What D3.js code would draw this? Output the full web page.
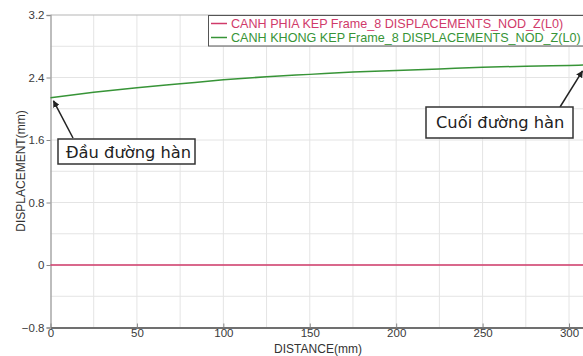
<!DOCTYPE html>
<html>
<head>
<meta charset="utf-8">
<script src="https://cdn.jsdelivr.net/npm/d3@7"></script>
<style>
  html, body { margin: 0; padding: 0; background: #fff; }
  svg { display: block; }
</style>
</head>
<body>
<svg id="chart" width="583" height="356"></svg>
<script>
// Distance along the weld (mm) and Z displacement (mm) of both edges
const distance = [0, 25, 50, 75, 100, 125, 150, 175, 200, 225, 250, 275, 300, 310];
const clampedEdge = [0, 0, 0, 0, 0, 0, 0, 0, 0, 0, 0, 0, 0, 0];
const freeEdge = [2.14, 2.21, 2.27, 2.32, 2.37, 2.41, 2.44, 2.47, 2.49, 2.51, 2.53, 2.545, 2.555, 2.56];

const seriesNames = [
  "CANH PHIA KEP Frame_8 DISPLACEMENTS_NOD_Z(L0)",
  "CANH KHONG KEP Frame_8 DISPLACEMENTS_NOD_Z(L0)"
];
const seriesColors = ["#d03a6a", "#379437"];

const xTicks = [0, 50, 100, 150, 200, 250, 300];
const xGrid = [25, 50, 75, 100, 125, 150, 175, 200, 225, 250, 275, 300];
const yTicks = [-0.8, 0, 0.8, 1.6, 2.4, 3.2];
const yGrid = [-0.4, 0, 0.4, 0.8, 1.2, 1.6, 2.0, 2.4, 2.8];

const startLabel = "Đầu đường hàn";
const endLabel = "Cuối đường hàn";

const svg = d3.select("#chart");
const font = "'Liberation Sans', Arial, sans-serif";

const x = d3.scaleLinear().domain([0, 310]).range([50.5, 586.3]);
const y = d3.scaleLinear().domain([-0.8, 3.2]).range([327.5, 15]);

// grid
svg.append("g").selectAll("line").data(xGrid).join("line")
  .attr("x1", d => x(d)).attr("x2", d => x(d))
  .attr("y1", y(3.2)).attr("y2", y(-0.8))
  .attr("stroke", "#e4e4e4").attr("stroke-width", 1);
svg.append("g").selectAll("line").data(yGrid).join("line")
  .attr("x1", x(0)).attr("x2", 583)
  .attr("y1", d => y(d)).attr("y2", d => y(d))
  .attr("stroke", "#e4e4e4").attr("stroke-width", 1);

// top border
svg.append("line").attr("x1", x(0)).attr("x2", 583)
  .attr("y1", y(3.2)).attr("y2", y(3.2))
  .attr("stroke", "#b5b5b5").attr("stroke-width", 1.2);

// y axis
const yAxis = svg.append("g").attr("transform", `translate(${x(0)},0)`)
  .call(d3.axisLeft(y).tickValues(yTicks).tickSize(4).tickPadding(2)
    .tickFormat(d => d === 0 ? "0" : d3.format(".1f")(d)));
yAxis.select(".domain").attr("stroke", "#a8a8a8").attr("stroke-width", 1.5);
yAxis.selectAll(".tick line").attr("stroke", "#888");
yAxis.selectAll("text").attr("font-family", font).attr("font-size", 11.5).attr("fill", "#3a3a3a");

// x axis
const xAxis = svg.append("g").attr("transform", `translate(0,${y(-0.8)})`)
  .call(d3.axisBottom(x).tickValues(xTicks).tickSizeInner(-4).tickSizeOuter(0).tickPadding(4));
xAxis.select(".domain").attr("stroke", "#707070").attr("stroke-width", 2);
xAxis.selectAll(".tick line").attr("stroke", "#888");
xAxis.selectAll("text").attr("font-family", font).attr("font-size", 11.5).attr("fill", "#3a3a3a").attr("dy", "0.5em");

// axis titles
svg.append("text").attr("x", 318).attr("y", 353).attr("text-anchor", "middle")
  .attr("font-family", font).attr("font-size", 12).attr("fill", "#333")
  .text("DISTANCE(mm)");
svg.append("text").attr("transform", "translate(25,171) rotate(-90)")
  .attr("text-anchor", "middle").attr("font-family", font).attr("font-size", 12).attr("fill", "#333")
  .text("DISPLACEMENT(mm)");

// series
const line = d3.line().x(d => x(d[0])).y(d => y(d[1])).curve(d3.curveMonotoneX);
[clampedEdge, freeEdge].forEach((vals, i) => {
  svg.append("path")
    .datum(distance.map((d, k) => [d, vals[k]]))
    .attr("d", line)
    .attr("fill", "none")
    .attr("stroke", seriesColors[i])
    .attr("stroke-width", 1.5);
});

// legend
const lg = svg.append("g");
lg.append("rect").attr("x", 208.5).attr("y", 15.5).attr("width", 400).attr("height", 30.5)
  .attr("fill", "#fff").attr("stroke", "#555").attr("stroke-width", 1);
seriesNames.forEach((name, i) => {
  const cy = 23.5 + i * 14;
  lg.append("line").attr("x1", 211).attr("x2", 227).attr("y1", cy).attr("y2", cy)
    .attr("stroke", seriesColors[i]).attr("stroke-width", 1.5);
  lg.append("text").attr("x", 231).attr("y", cy + 4.5)
    .attr("font-family", font).attr("font-size", 12.6).attr("fill", seriesColors[i])
    .text(name);
});

// annotations
svg.append("defs").append("marker")
  .attr("id", "arrowhead").attr("viewBox", "0 0 10 10")
  .attr("refX", 9).attr("refY", 5)
  .attr("markerWidth", 7).attr("markerHeight", 7)
  .attr("markerUnits", "userSpaceOnUse")
  .attr("orient", "auto")
  .append("path").attr("d", "M0,0 L10,5 L0,10 z").attr("fill", "#222");

function callout(label, pointX, pointY, tailX, tailY, bx, by, bw, bh, tx, ty) {
  svg.append("line")
    .attr("x1", tailX).attr("y1", tailY)
    .attr("x2", pointX).attr("y2", pointY)
    .attr("stroke", "#222").attr("stroke-width", 1.5)
    .attr("marker-end", "url(#arrowhead)");
  svg.append("rect").attr("x", bx).attr("y", by).attr("width", bw).attr("height", bh)
    .attr("fill", "#fff").attr("stroke", "#333").attr("stroke-width", 1.5);
  svg.append("text").attr("x", tx).attr("y", ty)
    .attr("font-family", "'DejaVu Sans', sans-serif").attr("font-size", 16.3).attr("fill", "#222")
    .text(label);
}

callout(startLabel, x(distance[0]) + 3, y(freeEdge[0]) + 3, 73, 138, 58, 139, 137, 25, 66, 158);
callout(endLabel, 582.5, y(freeEdge[freeEdge.length - 1]) + 6, 560, 107, 426, 107, 147, 31, 436, 128);
</script>
</body>
</html>
